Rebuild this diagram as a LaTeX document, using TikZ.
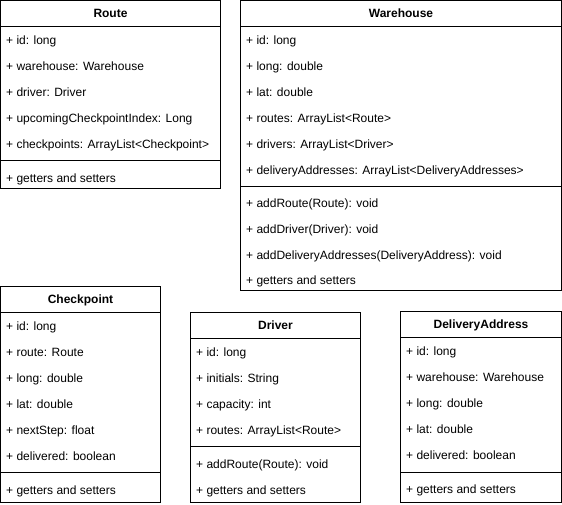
\documentclass[tikz,border=0pt]{standalone}
\usepackage{fontspec}
\setmainfont{Liberation Sans}
\begin{document}
\begin{tikzpicture}[x=1pt,y=-1pt,
  box/.style={draw,line width=1pt,anchor=north west,inner sep=0,outer sep=0},
  ttl/.style={anchor=base,yshift=-4.3pt,font=\bfseries\fontsize{12}{14}\selectfont,inner sep=0},
  mem/.style={anchor=base west,inner sep=0,yshift=-4.3pt,font=\fontsize{12}{14}\selectfont},
  sep/.style={line width=1pt}]
\useasboundingbox (0,0) rectangle (562,504);

% Route
\node[box,minimum width=220pt,minimum height=188pt] (route) at (0.5,0.5) {};
\node[ttl] (routeT) at (110.5,13.5) {Route};
\draw[sep] (0.5,26) -- (220.5,26);
\draw[sep] (0.5,160.5) -- (220.5,160.5);
\node[mem] (r1) at (6,40) {+ id: long};
\node[mem] (r2) at (6,66) {+ warehouse: Warehouse};
\node[mem] (r3) at (6,92) {+ driver: Driver};
\node[mem] (r4) at (6,118) {+ upcomingCheckpointIndex: Long};
\node[mem] (r5) at (6,144) {+ checkpoints: ArrayList<Checkpoint>};
\node[mem] (r6) at (6,178) {+ getters and setters};

% Warehouse
\node[box,minimum width=321pt,minimum height=290pt] (wh) at (240.5,0.5) {};
\node[ttl] (whT) at (401,13.5) {Warehouse};
\draw[sep] (240.5,26) -- (561.5,26);
\draw[sep] (240.5,186) -- (561.5,186);
\node[mem] (w1) at (246,40) {+ id: long};
\node[mem] (w2) at (246,66) {+ long: double};
\node[mem] (w3) at (246,92) {+ lat: double};
\node[mem] (w4) at (246,118) {+ routes: ArrayList<Route>};
\node[mem] (w5) at (246,144) {+ drivers: ArrayList<Driver>};
\node[mem] (w6) at (246,170) {+ deliveryAddresses: ArrayList<DeliveryAddresses>};
\node[mem] (w7) at (246,203) {+ addRoute(Route): void};
\node[mem] (w8) at (246,229) {+ addDriver(Driver): void};
\node[mem] (w9) at (246,255) {+ addDeliveryAddresses(DeliveryAddress): void};
\node[mem] (w10) at (246,280) {+ getters and setters};

% Checkpoint
\node[box,minimum width=160pt,minimum height=216pt] (cp) at (0.5,286.5) {};
\node[ttl] (cpT) at (80.5,299.5) {Checkpoint};
\draw[sep] (0.5,312) -- (160.5,312);
\draw[sep] (0.5,472) -- (160.5,472);
\node[mem] (c1) at (6,326) {+ id: long};
\node[mem] (c2) at (6,352) {+ route: Route};
\node[mem] (c3) at (6,378) {+ long: double};
\node[mem] (c4) at (6,404) {+ lat: double};
\node[mem] (c5) at (6,430) {+ nextStep: float};
\node[mem] (c6) at (6,456) {+ delivered: boolean};
\node[mem] (c7) at (6,490) {+ getters and setters};

% Driver
\node[box,minimum width=170pt,minimum height=190pt] (dr) at (190.5,312.5) {};
\node[ttl] (drT) at (275.5,325.5) {Driver};
\draw[sep] (190.5,338) -- (360.5,338);
\draw[sep] (190.5,446) -- (360.5,446);
\node[mem] (d1) at (196,352) {+ id: long};
\node[mem] (d2) at (196,378) {+ initials: String};
\node[mem] (d3) at (196,404) {+ capacity: int};
\node[mem] (d4) at (196,430) {+ routes: ArrayList<Route>};
\node[mem] (d5) at (196,464) {+ addRoute(Route): void};
\node[mem] (d6) at (196,490) {+ getters and setters};

% DeliveryAddress
\node[box,minimum width=161pt,minimum height=191pt] (da) at (400.5,311.5) {};
\node[ttl] (daT) at (481,324.5) {DeliveryAddress};
\draw[sep] (400.5,337) -- (561.5,337);
\draw[sep] (400.5,472) -- (561.5,472);
\node[mem] (a1) at (406,351) {+ id: long};
\node[mem] (a2) at (406,377) {+ warehouse: Warehouse};
\node[mem] (a3) at (406,403) {+ long: double};
\node[mem] (a4) at (406,429) {+ lat: double};
\node[mem] (a5) at (406,455) {+ delivered: boolean};
\node[mem] (a6) at (406,489) {+ getters and setters};
\end{tikzpicture}
\end{document}
